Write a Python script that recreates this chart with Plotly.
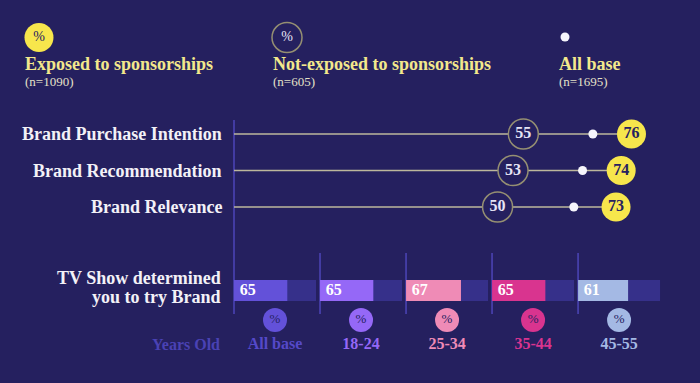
import plotly.graph_objects as go

# ---------------- data ----------------
metrics = ["Brand Purchase Intention", "Brand Recommendation", "Brand Relevance"]
exposed = [76, 74, 73]
not_exposed = [55, 53, 50]
all_base = [68.5, 66.5, 64.8]

age_groups = ["All base", "18-24", "25-34", "35-44", "45-55"]
tv_show = [65, 65, 67, 65, 61]

legend_labels = ["Exposed to sponsorships", "Not-exposed to sponsorships", "All base"]
legend_n = ["(n=1090)", "(n=605)", "(n=1695)"]

# ---------------- style ----------------
W, H = 700, 383
BG = "#25205f"
YELLOW = "#f7e64c"
LEG_TEXT = "#f3e88c"
OUTLINE = "#958f72"
LINE = "#bdb79c"
AXIS = "#4d45b8"
TRACK = "#36308a"
DARK = "#262161"
WHITE = "#f3f1f7"
DOT = "#f6f5fc"
group_colors = ["#6351d9", "#9568f7", "#ef8bb6", "#d9348f", "#a4b9e4"]
label_colors = ["#5549c9", "#9568f7", "#ef8bb6", "#d9348f", "#a4b9e4"]
FONT = "Liberation Serif"


def px(x):
    return x / W


def py(y):
    return 1 - y / H


X_MIN, X_MAX = -1.17, 89.3
GROUP_STEP = 104.9
offsets = [i * GROUP_STEP for i in range(len(age_groups))]

fig = go.Figure()

# connecting lines
for m, e in zip(metrics, exposed):
    fig.add_trace(go.Scatter(x=[X_MIN, e], y=[m, m], mode="lines",
                             line=dict(color=LINE, width=1.3),
                             hoverinfo="skip", showlegend=False))

# not exposed circles
fig.add_trace(go.Scatter(x=not_exposed, y=metrics, mode="markers+text",
                         marker=dict(size=30, color=BG, line=dict(color=OUTLINE, width=1.5)),
                         text=[f"<b>{v}</b>" for v in not_exposed],
                         textposition="middle center",
                         textfont=dict(family=FONT, size=16, color="#e6e4f5"),
                         showlegend=False))
# all base dots
fig.add_trace(go.Scatter(x=all_base, y=metrics, mode="markers",
                         marker=dict(size=9, color=DOT), showlegend=False))
# exposed circles
fig.add_trace(go.Scatter(x=exposed, y=metrics, mode="markers+text",
                         marker=dict(size=29, color=YELLOW),
                         text=[f"<b>{v}</b>" for v in exposed],
                         textposition="middle center",
                         textfont=dict(family=FONT, size=16, color=DARK),
                         showlegend=False))

# bottom tracks & bars
fig.add_trace(go.Bar(x=[100] * len(age_groups), base=offsets, y=[0] * len(age_groups),
                     orientation="h", width=0.712, marker=dict(color=TRACK, line=dict(width=0)),
                     xaxis="x2", yaxis="y2", hoverinfo="skip", showlegend=False))
fig.add_trace(go.Bar(x=tv_show, base=offsets, y=[0] * len(age_groups),
                     orientation="h", width=0.712, marker=dict(color=group_colors, line=dict(width=0)),
                     xaxis="x2", yaxis="y2", showlegend=False))
fig.add_trace(go.Scatter(x=[o + 7 for o in offsets], y=[0] * len(age_groups),
                         mode="text", text=[f"<b>{v}</b>" for v in tv_show],
                         textposition="middle right",
                         textfont=dict(family=FONT, size=16, color="#ffffff"),
                         xaxis="x2", yaxis="y2", showlegend=False))
# percent circles
fig.add_trace(go.Scatter(x=[o + 50 for o in offsets], y=[-1] * len(age_groups),
                         mode="markers+text",
                         marker=dict(size=24, color=group_colors),
                         text=["%"] * len(age_groups), textposition="middle center",
                         textfont=dict(family=FONT, size=13, color=DARK),
                         xaxis="x2", yaxis="y2", showlegend=False))
# age labels
fig.add_trace(go.Scatter(x=[o + 50 for o in offsets], y=[-1.85] * len(age_groups),
                         mode="text", text=[f"<b>{g}</b>" for g in age_groups],
                         textposition="middle center",
                         textfont=dict(family=FONT, size=16, color=label_colors),
                         xaxis="x2", yaxis="y2", showlegend=False))

# legend symbols (pixel-space overlay axis)
fig.add_trace(go.Scatter(x=[39], y=[37.5], mode="markers+text", opacity=1,
                         marker=dict(size=29, color=YELLOW, opacity=1),
                         text=["%"], textposition="middle center",
                         textfont=dict(family=FONT, size=14, color=DARK),
                         xaxis="x3", yaxis="y3", hoverinfo="skip", showlegend=False))
fig.add_trace(go.Scatter(x=[287], y=[37.5], mode="markers+text", opacity=1,
                         marker=dict(size=30, color=BG, opacity=1,
                                     line=dict(color=OUTLINE, width=1.5)),
                         text=["%"], textposition="middle center",
                         textfont=dict(family=FONT, size=14, color="#e6e4f5"),
                         xaxis="x3", yaxis="y3", hoverinfo="skip", showlegend=False))
fig.add_trace(go.Scatter(x=[565], y=[37], mode="markers", opacity=1,
                         marker=dict(size=9, color=DOT, opacity=1),
                         xaxis="x3", yaxis="y3", hoverinfo="skip", showlegend=False))

shapes = []
shapes.append(dict(type="line", xref="paper", yref="paper", x0=px(234), x1=px(234),
                   y0=py(120), y1=py(314), line=dict(color=AXIS, width=1.5), layer="below"))
for o in offsets[1:]:
    shapes.append(dict(type="line", xref="x2", yref="paper", x0=o, x1=o,
                       y0=py(253), y1=py(314), line=dict(color=AXIS, width=1.5), layer="below"))

annotations = []


def ann(x, y, text, size, color, xanchor="left", yref="paper"):
    annotations.append(dict(x=x, y=y, xref="paper", yref=yref, text=text,
                            xanchor=xanchor, yanchor="middle", showarrow=False,
                            font=dict(family=FONT, size=size, color=color)))


for lx, lab, n in zip([23, 271, 557], legend_labels, legend_n):
    ann(px(lx), py(64), f"<b>{lab}</b>", 18, LEG_TEXT)
    ann(px(lx), py(81), n, 13, "#e4e0c8")
for m in metrics:
    ann(px(224), m, f"<b>{m}</b>", 18, WHITE, xanchor="right", yref="y")
for yy, t in zip([278, 297], ["TV Show determined", "you to try Brand"]):
    ann(px(223), py(yy), f"<b>{t}</b>", 18, WHITE, xanchor="right")
ann(px(222), py(344), "<b>Years Old</b>", 16, "#4a42b4", xanchor="right")

fig.update_layout(
    width=W, height=H,
    margin=dict(l=0, r=0, t=0, b=0),
    paper_bgcolor=BG, plot_bgcolor="rgba(0,0,0,0)",
    barmode="overlay",
    hovermode=False,
    xaxis=dict(domain=[px(234), 1], range=[X_MIN, X_MAX], visible=False),
    yaxis=dict(domain=[py(225.25), py(115.75)], range=[2.5, -0.5], visible=False,
               type="category", categoryarray=metrics),
    xaxis2=dict(domain=[px(234), 1], range=[0, (700 - 234) / 0.82], visible=False,
                anchor="y2"),
    yaxis2=dict(domain=[py(360), py(250)], range=[-2.356, 1.373], visible=False,
                anchor="x2"),
    xaxis3=dict(domain=[0, 1], range=[0, W], visible=False, anchor="y3"),
    yaxis3=dict(domain=[0, 1], range=[H, 0], visible=False, anchor="x3"),
    shapes=shapes,
    annotations=annotations,
    font=dict(family=FONT),
)

fig.write_html("out.html", config={"displayModeBar": False},
               post_script="document.body.style.margin='0';document.body.style.overflow='hidden';")
